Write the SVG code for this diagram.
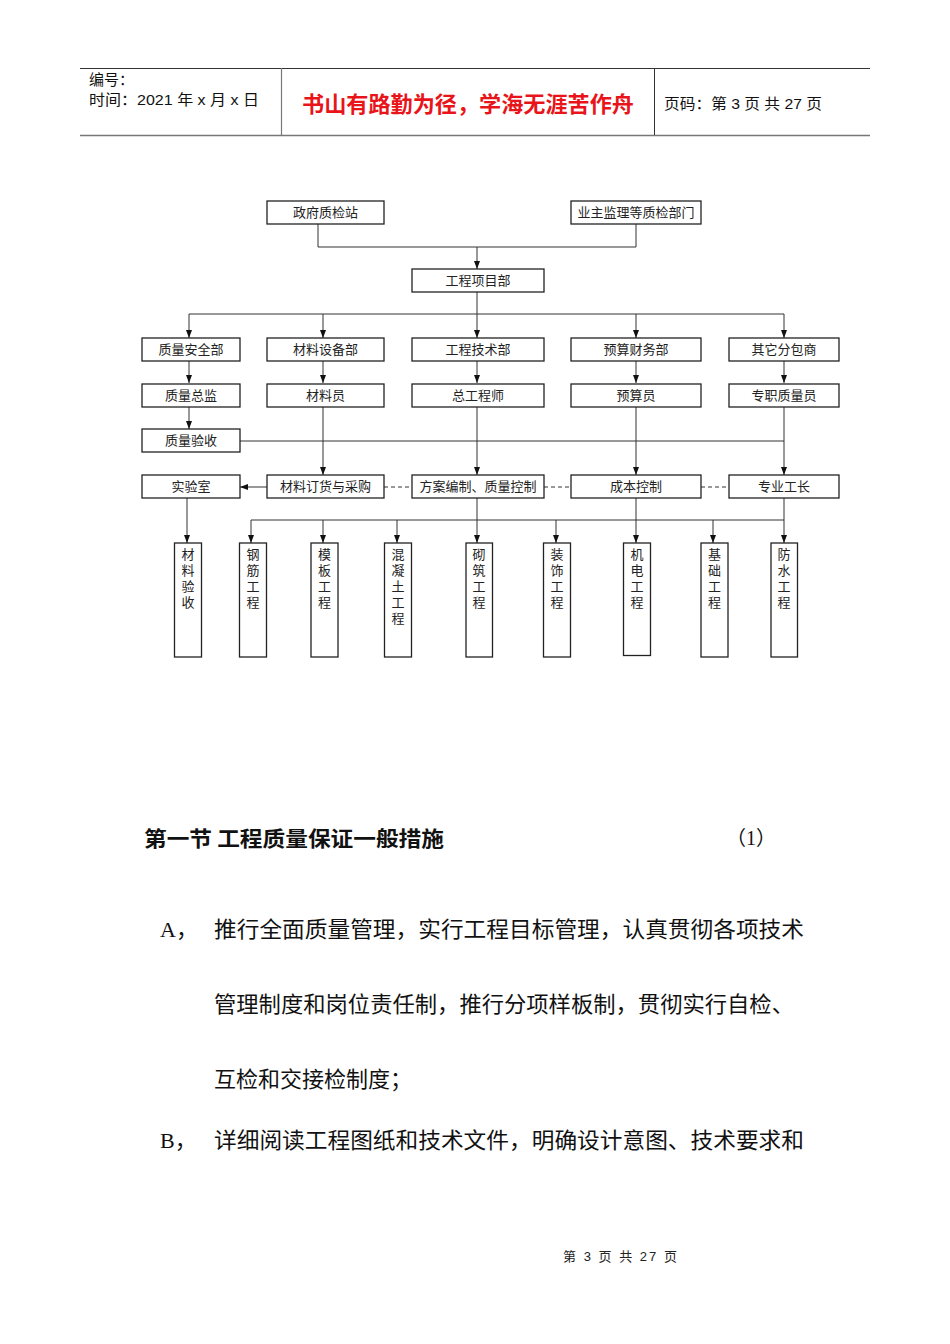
<svg xmlns="http://www.w3.org/2000/svg" width="950" height="1344" viewBox="0 0 950 1344">
<style>
.bg{fill:#fff}
.box{fill:#fff;stroke:#222;stroke-width:1.3}
.t{font-family:"Liberation Serif","Noto Sans CJK SC",serif;font-size:13px;fill:#222;text-anchor:middle}
.vt{font-family:"Liberation Serif","Noto Sans CJK SC",serif;font-size:13px;fill:#222;text-anchor:middle}
.ln{fill:none;stroke:#333;stroke-width:1}
.arr{fill:none;stroke:#333;stroke-width:1;marker-end:url(#ah)}
.dash{fill:none;stroke:#333;stroke-width:1;stroke-dasharray:4,3}
.hd{font-family:"Liberation Sans","Noto Sans CJK SC",sans-serif;font-size:15px;fill:#111}
.body{font-family:"Liberation Serif","Noto Sans CJK SC",serif;font-size:22px;fill:#111}
</style>
<defs>
<marker id="ah" markerUnits="userSpaceOnUse" markerWidth="8" markerHeight="8" refX="8" refY="4" orient="auto">
<path d="M0,1 L8,4 L0,7 z" fill="#111"/>
</marker>
</defs>
<rect class="bg" x="0" y="0" width="950" height="1344"/>

<g id="header">
<line x1="80" y1="68.5" x2="870" y2="68.5" stroke="#333" stroke-width="1.2"/>
<line x1="80" y1="135.5" x2="870" y2="135.5" stroke="#777" stroke-width="1.5"/>
<line x1="281.5" y1="68" x2="281.5" y2="135" stroke="#777" stroke-width="1.2"/>
<line x1="654.5" y1="68" x2="654.5" y2="135" stroke="#333" stroke-width="1"/>
<text class="hd" x="89" y="85">编号：</text>
<text class="hd" x="89" y="105" textLength="170" lengthAdjust="spacingAndGlyphs">时间：2021 年 x 月 x 日</text>
<text x="302" y="112" textLength="332" lengthAdjust="spacingAndGlyphs" font-family="'Noto Sans CJK SC',sans-serif" font-size="22" font-weight="bold" fill="#e8141a">书山有路勤为径，学海无涯苦作舟</text>
<text class="hd" x="664" y="109" textLength="158" lengthAdjust="spacingAndGlyphs">页码：第 3 页  共 27 页</text>
</g>

<g id="connectors">
<path class="ln" d="M318,224 V247 H636 V224"/>
<path class="arr" d="M477,247 V269"/>
<path class="ln" d="M477,292 V314"/>
<path class="ln" d="M189,314 H784"/>
<path class="arr" d="M189,314 V338"/>
<path class="arr" d="M323,314 V338"/>
<path class="arr" d="M477,314 V338"/>
<path class="arr" d="M636,314 V338"/>
<path class="arr" d="M784,314 V338"/>
<path class="arr" d="M189,361 V383"/>
<path class="arr" d="M323,361 V383"/>
<path class="arr" d="M477,361 V383"/>
<path class="arr" d="M636,361 V383"/>
<path class="arr" d="M784,361 V383"/>
<path class="arr" d="M189,407 V429"/>
<path class="ln" d="M240,441 H784"/>
<path class="arr" d="M323,407 V475"/>
<path class="arr" d="M477,407 V475"/>
<path class="arr" d="M636,407 V475"/>
<path class="arr" d="M784,407 V475"/>
<path class="arr" d="M267,487 H240"/>
<path class="dash" d="M384,487 H412"/>
<path class="dash" d="M544,487 H571"/>
<path class="dash" d="M701,487 H729"/>
<path class="arr" d="M187,498 V543"/>
<path class="ln" d="M251,520 H784"/>
<path class="arr" d="M251,520 V543"/>
<path class="arr" d="M323,520 V543"/>
<path class="arr" d="M397,520 V543"/>
<path class="arr" d="M556,520 V543"/>
<path class="arr" d="M713,520 V543"/>
<path class="arr" d="M477,498 V543"/>
<path class="arr" d="M636,498 V543"/>
<path class="arr" d="M784,498 V543"/>
</g>

<g id="n-gov"><rect class="box" x="267" y="201" width="117" height="23"/><text class="t" x="325.5" y="217">政府质检站</text></g>
<g id="n-owner"><rect class="box" x="571" y="201" width="130" height="23"/><text class="t" x="636" y="217">业主监理等质检部门</text></g>
<g id="n-pm"><rect class="box" x="412" y="269" width="132" height="23"/><text class="t" x="478" y="285">工程项目部</text></g>

<g id="n-qs"><rect class="box" x="142" y="338" width="98" height="23"/><text class="t" x="191" y="354">质量安全部</text></g>
<g id="n-me"><rect class="box" x="267" y="338" width="117" height="23"/><text class="t" x="325.5" y="354">材料设备部</text></g>
<g id="n-et"><rect class="box" x="412" y="338" width="132" height="23"/><text class="t" x="478" y="354">工程技术部</text></g>
<g id="n-bf"><rect class="box" x="571" y="338" width="130" height="23"/><text class="t" x="636" y="354">预算财务部</text></g>
<g id="n-sub"><rect class="box" x="729" y="338" width="110" height="23"/><text class="t" x="784" y="354">其它分包商</text></g>

<g id="n-qd"><rect class="box" x="142" y="384" width="98" height="23"/><text class="t" x="191" y="400">质量总监</text></g>
<g id="n-mp"><rect class="box" x="267" y="384" width="117" height="23"/><text class="t" x="325.5" y="400">材料员</text></g>
<g id="n-ce"><rect class="box" x="412" y="384" width="132" height="23"/><text class="t" x="478" y="400">总工程师</text></g>
<g id="n-bp"><rect class="box" x="571" y="384" width="130" height="23"/><text class="t" x="636" y="400">预算员</text></g>
<g id="n-qi"><rect class="box" x="729" y="384" width="110" height="23"/><text class="t" x="784" y="400">专职质量员</text></g>

<g id="n-qa"><rect class="box" x="142" y="429" width="98" height="23"/><text class="t" x="191" y="445">质量验收</text></g>

<g id="n-lab"><rect class="box" x="142" y="475" width="98" height="23"/><text class="t" x="191" y="491">实验室</text></g>
<g id="n-buy"><rect class="box" x="267" y="475" width="117" height="23"/><text class="t" x="325.5" y="491">材料订货与采购</text></g>
<g id="n-plan"><rect class="box" x="412" y="475" width="132" height="23"/><text class="t" x="478" y="491">方案编制、质量控制</text></g>
<g id="n-cost"><rect class="box" x="571" y="475" width="130" height="23"/><text class="t" x="636" y="491">成本控制</text></g>
<g id="n-fore"><rect class="box" x="729" y="475" width="110" height="23"/><text class="t" x="784" y="491">专业工长</text></g>

<g id="v-mat"><rect class="box" x="174.5" y="543" width="27" height="114"/><text class="vt" x="188" y="559"><tspan x="188">材</tspan><tspan x="188" dy="16">料</tspan><tspan x="188" dy="16">验</tspan><tspan x="188" dy="16">收</tspan></text></g>
<g id="v-steel"><rect class="box" x="239.5" y="543" width="27" height="114"/><text class="vt" x="253" y="559"><tspan x="253">钢</tspan><tspan x="253" dy="16">筋</tspan><tspan x="253" dy="16">工</tspan><tspan x="253" dy="16">程</tspan></text></g>
<g id="v-form"><rect class="box" x="311" y="543" width="27" height="114"/><text class="vt" x="324.5" y="559"><tspan x="324.5">模</tspan><tspan x="324.5" dy="16">板</tspan><tspan x="324.5" dy="16">工</tspan><tspan x="324.5" dy="16">程</tspan></text></g>
<g id="v-conc"><rect class="box" x="384.5" y="543" width="27" height="114"/><text class="vt" x="398" y="559"><tspan x="398">混</tspan><tspan x="398" dy="16">凝</tspan><tspan x="398" dy="16">土</tspan><tspan x="398" dy="16">工</tspan><tspan x="398" dy="16">程</tspan></text></g>
<g id="v-mas"><rect class="box" x="466" y="543" width="26.5" height="114"/><text class="vt" x="479" y="559"><tspan x="479">砌</tspan><tspan x="479" dy="16">筑</tspan><tspan x="479" dy="16">工</tspan><tspan x="479" dy="16">程</tspan></text></g>
<g id="v-dec"><rect class="box" x="543.5" y="543" width="27" height="114"/><text class="vt" x="557" y="559"><tspan x="557">装</tspan><tspan x="557" dy="16">饰</tspan><tspan x="557" dy="16">工</tspan><tspan x="557" dy="16">程</tspan></text></g>
<g id="v-mep"><rect class="box" x="623.5" y="543" width="27" height="112.5"/><text class="vt" x="637" y="559"><tspan x="637">机</tspan><tspan x="637" dy="16">电</tspan><tspan x="637" dy="16">工</tspan><tspan x="637" dy="16">程</tspan></text></g>
<g id="v-fdn"><rect class="box" x="701" y="543" width="27" height="114"/><text class="vt" x="714.5" y="559"><tspan x="714.5">基</tspan><tspan x="714.5" dy="16">础</tspan><tspan x="714.5" dy="16">工</tspan><tspan x="714.5" dy="16">程</tspan></text></g>
<g id="v-wp"><rect class="box" x="771" y="543" width="26.5" height="114"/><text class="vt" x="784" y="559"><tspan x="784">防</tspan><tspan x="784" dy="16">水</tspan><tspan x="784" dy="16">工</tspan><tspan x="784" dy="16">程</tspan></text></g>

<g id="content">
<text x="144" y="846" textLength="300" lengthAdjust="spacingAndGlyphs" font-family="'Noto Sans CJK SC',sans-serif" font-size="21" font-weight="bold" fill="#111">第一节  工程质量保证一般措施</text>
<text x="726" y="845" font-family="'Liberation Serif','Noto Sans CJK SC',serif" font-size="20" fill="#111">（1）</text>
<text class="body" x="160" y="937">A，</text>
<text class="body" x="214" y="937" textLength="590" lengthAdjust="spacingAndGlyphs">推行全面质量管理，实行工程目标管理，认真贯彻各项技术</text>
<text class="body" x="214" y="1012" textLength="580" lengthAdjust="spacingAndGlyphs">管理制度和岗位责任制，推行分项样板制，贯彻实行自检、</text>
<text class="body" x="214" y="1087">互检和交接检制度；</text>
<text class="body" x="160" y="1148">B，</text>
<text class="body" x="214" y="1148" textLength="590" lengthAdjust="spacingAndGlyphs">详细阅读工程图纸和技术文件，明确设计意图、技术要求和</text>
</g>

<g id="footer">
<text x="563" y="1261" textLength="114" lengthAdjust="spacing" font-family="'Liberation Sans','Noto Sans CJK SC',sans-serif" font-size="13" fill="#222">第 3 页 共 27 页</text>
</g>
</svg>
